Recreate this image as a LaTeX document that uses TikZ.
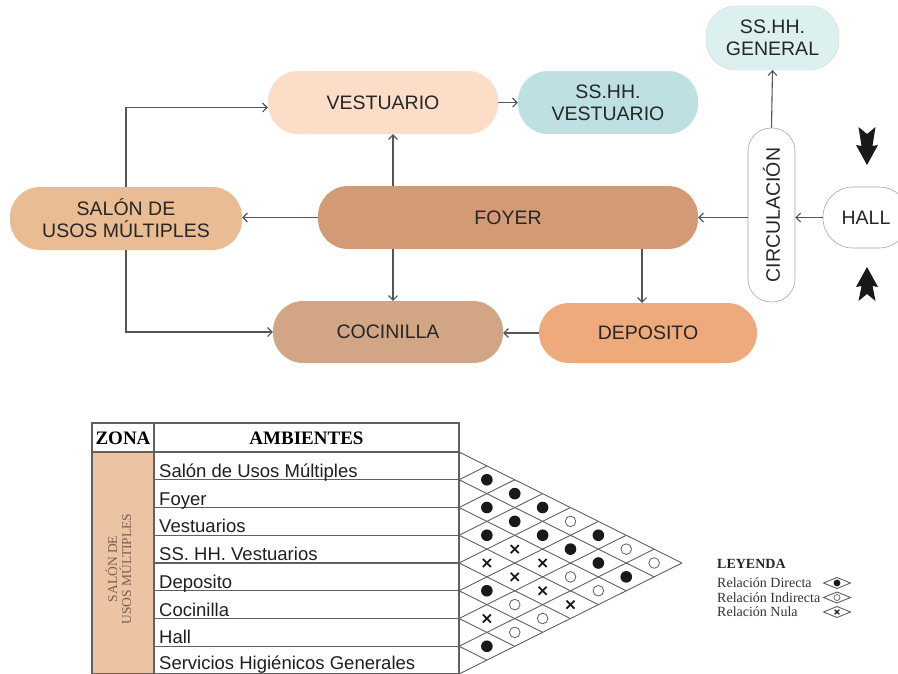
\documentclass[tikz,border=0pt]{standalone}
\usepackage{fontspec}
\setmainfont{Liberation Serif}
\setsansfont{Liberation Sans}
\usetikzlibrary{arrows.meta}
\definecolor{ln}{HTML}{555555}
\definecolor{txt}{HTML}{262626}
\definecolor{cvest}{HTML}{FCDDC7}
\definecolor{cssv}{HTML}{BEE0E2}
\definecolor{cssg}{HTML}{DDF0F0}
\definecolor{csalon}{HTML}{E9BC94}
\definecolor{cfoyer}{HTML}{D39A76}
\definecolor{ccoc}{HTML}{D2A584}
\definecolor{cdep}{HTML}{EFAA7B}
\definecolor{czone}{HTML}{ECC4A3}
\definecolor{zonetxt}{HTML}{7A5E4F}
\definecolor{gridc}{HTML}{606060}
\begin{document}
\begin{tikzpicture}[x=1pt,y=-1pt,
  box/.style={rectangle, rounded corners=30pt, minimum height=63pt, inner sep=0pt, align=center, text=txt, font=\sffamily\fontsize{19.5}{22}\selectfont},
  outbox/.style={box, fill=white, draw=gray!70, line width=0.6pt},
  arr/.style={draw=ln, line width=1.1pt, -{Straight Barb[length=4.5pt,width=9pt]}},
  bigarrow/.style={fill=black!90},
  tl/.style={draw=gridc, line width=1.1pt},
  ml/.style={draw=gridc, line width=0.9pt},
  rowtxt/.style={anchor=base west, inner sep=0pt, text=black!88, font=\sffamily\fontsize{18.5}{20}\selectfont},
  headtxt/.style={inner sep=0pt, text=black, font=\bfseries\fontsize{19}{20}\selectfont},
  legtxt/.style={anchor=base west, inner sep=0pt, text=black!80, font=\fontsize{14}{14}\selectfont},
  dotsym/.style={fill=black!90},
  ringsym/.style={draw=gridc, line width=0.8pt, fill=white},
  crosssym/.style={draw=black!90, line width=1.8pt}
]
\fill[white] (0,0) rectangle (898,673);
\useasboundingbox (0,0) rectangle (898,673);

% ---------- flow diagram ----------
\node[box, fill=cvest, minimum width=230pt] (vest) at (383,102.5) {VESTUARIO};
\node[box, fill=cssv, minimum width=180pt] (ssv) at (608,102.5) {SS.HH.\\VESTUARIO};
\node[box, fill=cssg, draw=cssg!80!gray, line width=0.4pt, minimum width=133pt, minimum height=64pt] (ssg) at (772.5,38) {SS.HH.\\GENERAL};
\node[box, fill=csalon, minimum width=232pt] (salon) at (126,218.5) {SALÓN DE\\USOS MÚLTIPLES};
\node[box, fill=cfoyer, minimum width=380pt] (foyer) at (508,217.5) {FOYER};
\node[box, fill=ccoc, minimum width=230pt, minimum height=62pt] (coc) at (388,332) {COCINILLA};
\node[box, fill=cdep, minimum width=218pt, minimum height=60pt] (dep) at (648,333) {DEPOSITO};
\node[outbox, rounded corners=23pt, minimum width=47pt, minimum height=174pt] (circ) at (771.5,215) {};
\node[rotate=90, inner sep=0pt, text=txt, font=\sffamily\fontsize{19.5}{22}\selectfont] (circtxt) at (circ.center) {CIRCULACIÓN};
\node[outbox, minimum width=86pt, minimum height=61pt] (hall) at (866,217.5) {HALL};

\coordinate (fv) at ([xshift=-115pt]foyer.north);
\coordinate (fc) at ([xshift=-115pt]foyer.south);
\coordinate (fd) at ([xshift=134pt]foyer.south);

\draw[arr] (salon.north) |- ([yshift=-5pt]vest.west);
\draw[arr] (salon.south) |- (coc.west);
\draw[arr] (foyer.west) -- (foyer.west -| salon.east);
\draw[arr] (fv) -- (fv |- vest.south);
\draw[arr] (fc) -- (fc |- coc.north);
\draw[arr] (vest.east) -- (ssv.west);
\draw[arr] (fd) -- (fd |- dep.north);
\draw[arr] (dep.west) -- (dep.west -| coc.east);
\draw[arr] (circ.west |- foyer.east) -- (foyer.east);
\draw[arr] (hall.west) -- (hall.west -| circ.east);
\draw[arr] (circ.north) -- (ssg.south);

% thick black arrows beside HALL
\fill[bigarrow] (858.5,127) -- (867,134) -- (875.5,127) -- (872.5,146) -- (878,145) -- (867,165) -- (856,145) -- (861.5,146) -- cycle;
\fill[bigarrow] (867,267) -- (878,287) -- (872.5,286) -- (875.5,301) -- (867,294) -- (858.5,301) -- (861.5,286) -- (856,287) -- cycle;

% ---------- table ----------
\fill[czone] (92,452) rectangle (154,674);
\draw[tl] (92,423) rectangle (459,674);
\draw[tl] (154,423) -- (154,674);
\draw[tl] (92,452) -- (459,452);
\foreach \k in {1,...,7} {
  \draw[tl] (154,{452+\k*27.75}) -- (459,{452+\k*27.75});
}
\node[headtxt] (hzona) at (123,438) {ZONA};
\node[headtxt] (hamb) at (306.5,438) {AMBIENTES};
\node[rotate=90, align=center, inner sep=0pt, text=zonetxt, font=\fontsize{13.5}{14}\selectfont] (zt) at (118.5,569) {SALÓN DE\\USOS MÚLTIPLES};
\foreach \t [count=\k] in {Salón de Usos Múltiples, Foyer, Vestuarios, SS. HH. Vestuarios, Deposito, Cocinilla, Hall} {
  \node[rowtxt] (r\k) at (159,{452+\k*27.75-2.5}) {\t};
}
\node[rowtxt] (r8) at (159,669.5) {Servicios Higiénicos Generales};

% ---------- relation matrix ----------
\foreach \k in {0,...,8} {
  \draw[ml] (459,{452+2*\k*13.875}) -- ({459+(8-\k)*27.875},{452+(\k+8)*13.875});
  \draw[ml] (459,{452+2*\k*13.875}) -- ({459+\k*27.875},{452+\k*13.875});
}
\foreach \i/\j in {1/2,1/3,2/3,1/4,2/4,3/4,2/5,1/6,2/6,2/7,2/8,5/6,7/8} {
  \fill[dotsym] ({459+(\j-\i)*27.875},{452+(\i+\j-1)*13.875}) circle (5.8pt);
}
\foreach \i/\j in {1/5,1/7,1/8,3/7,3/8,5/7,5/8,6/8} {
  \draw[ringsym] ({459+(\j-\i)*27.875},{452+(\i+\j-1)*13.875}) circle (5.3pt);
}
\foreach \i/\j in {3/5,4/5,3/6,4/6,4/7,4/8,6/7} {
  \begin{scope}[shift={({459+(\j-\i)*27.875},{452+(\i+\j-1)*13.875})}]
    \draw[crosssym] (-4,-4) -- (4,4) (-4,4) -- (4,-4);
  \end{scope}
}

% ---------- legend ----------
\node[legtxt, font=\bfseries\fontsize{14}{14}\selectfont, text=black!85] (ley) at (717,568) {LEYENDA};
\node[legtxt] (l1) at (717,587.5) {Relación Directa};
\node[legtxt] (l2) at (717,602) {Relación Indirecta};
\node[legtxt] (l3) at (717,616.5) {Relación Nula};
\foreach \yc in {583,597.5,612} {
  \draw[ml] (823.5,\yc) -- (837,{\yc-5.5}) -- (850.5,\yc) -- (837,{\yc+5.5}) -- cycle;
}
\fill[dotsym] (837,583) circle (3.4pt);
\draw[ringsym, line width=0.7pt] (837,597.5) circle (3pt);
\draw[crosssym, line width=1.3pt] (834.7,609.7) -- (839.3,614.3) (834.7,614.3) -- (839.3,609.7);
\end{tikzpicture}
\end{document}
